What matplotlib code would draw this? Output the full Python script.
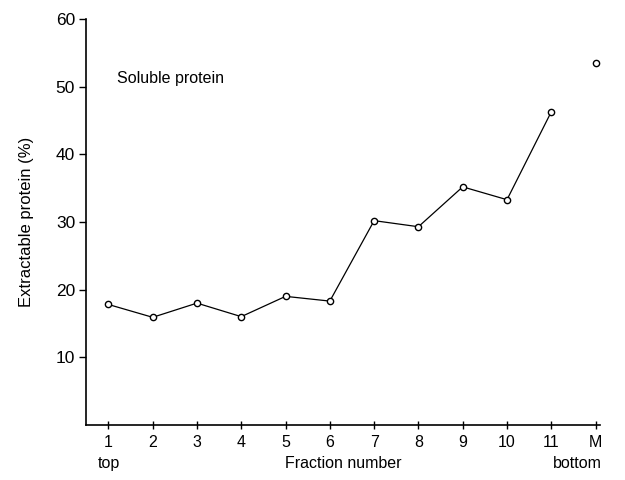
import numpy as np
import matplotlib
matplotlib.use("Agg")
import matplotlib.pyplot as plt

plt.rcParams['font.family'] = ['Liberation Sans', 'DejaVu Sans']

# fractions 1..11 connected, M (membrane pellet) shown separately
fractions = [1, 2, 3, 4, 5, 6, 7, 8, 9, 10, 11]
protein = [17.8, 15.9, 18.0, 16.0, 19.0, 18.3, 30.2, 29.3, 35.2, 33.3, 46.3]
m_pos = 12
m_value = 53.5
tick_labels = ["1", "2", "3", "4", "5", "6", "7", "8", "9", "10", "11", "M"]

fig = plt.figure(figsize=(6.25, 4.8), dpi=100)
ax = fig.add_axes([0.138, 0.115, 0.822, 0.845])

ax.plot(fractions, protein, color="black", lw=0.9, marker="o", ms=4.5,
        mfc="white", mec="black", mew=1.0)
ax.plot([m_pos], [m_value], ls="none", marker="o", ms=4.5,
        mfc="white", mec="black", mew=1.0)

ax.set_xlim(0.5, 12.1)
ax.set_ylim(0, 60)
ax.set_yticks([10, 20, 30, 40, 50, 60])
ax.set_xticks(range(1, 13))
ax.set_xticklabels(tick_labels)
ax.spines['top'].set_visible(False)
ax.spines['right'].set_visible(False)
ax.spines['left'].set_linewidth(1.2)
ax.spines['bottom'].set_linewidth(1.2)
ax.tick_params(axis='y', direction='out', length=5, width=1, labelsize=12.5, pad=3)
ax.tick_params(axis='x', direction='inout', length=6, width=1, labelsize=11.5, pad=4)

ax.set_ylabel("Extractable protein (%)", fontsize=12, labelpad=16)
ax.text(0.5, -0.095, "Fraction number", transform=ax.transAxes,
        ha="center", va="center", fontsize=11.5)
ax.text(1, -0.095, "top", transform=ax.get_xaxis_transform(),
        ha="center", va="center", fontsize=11.5)
ax.text(12.15, -0.095, "bottom", transform=ax.get_xaxis_transform(),
        ha="right", va="center", fontsize=11.5, clip_on=False)
ax.text(1.2, 50.5, "Soluble protein", fontsize=11.5)

fig.savefig("out.png")
